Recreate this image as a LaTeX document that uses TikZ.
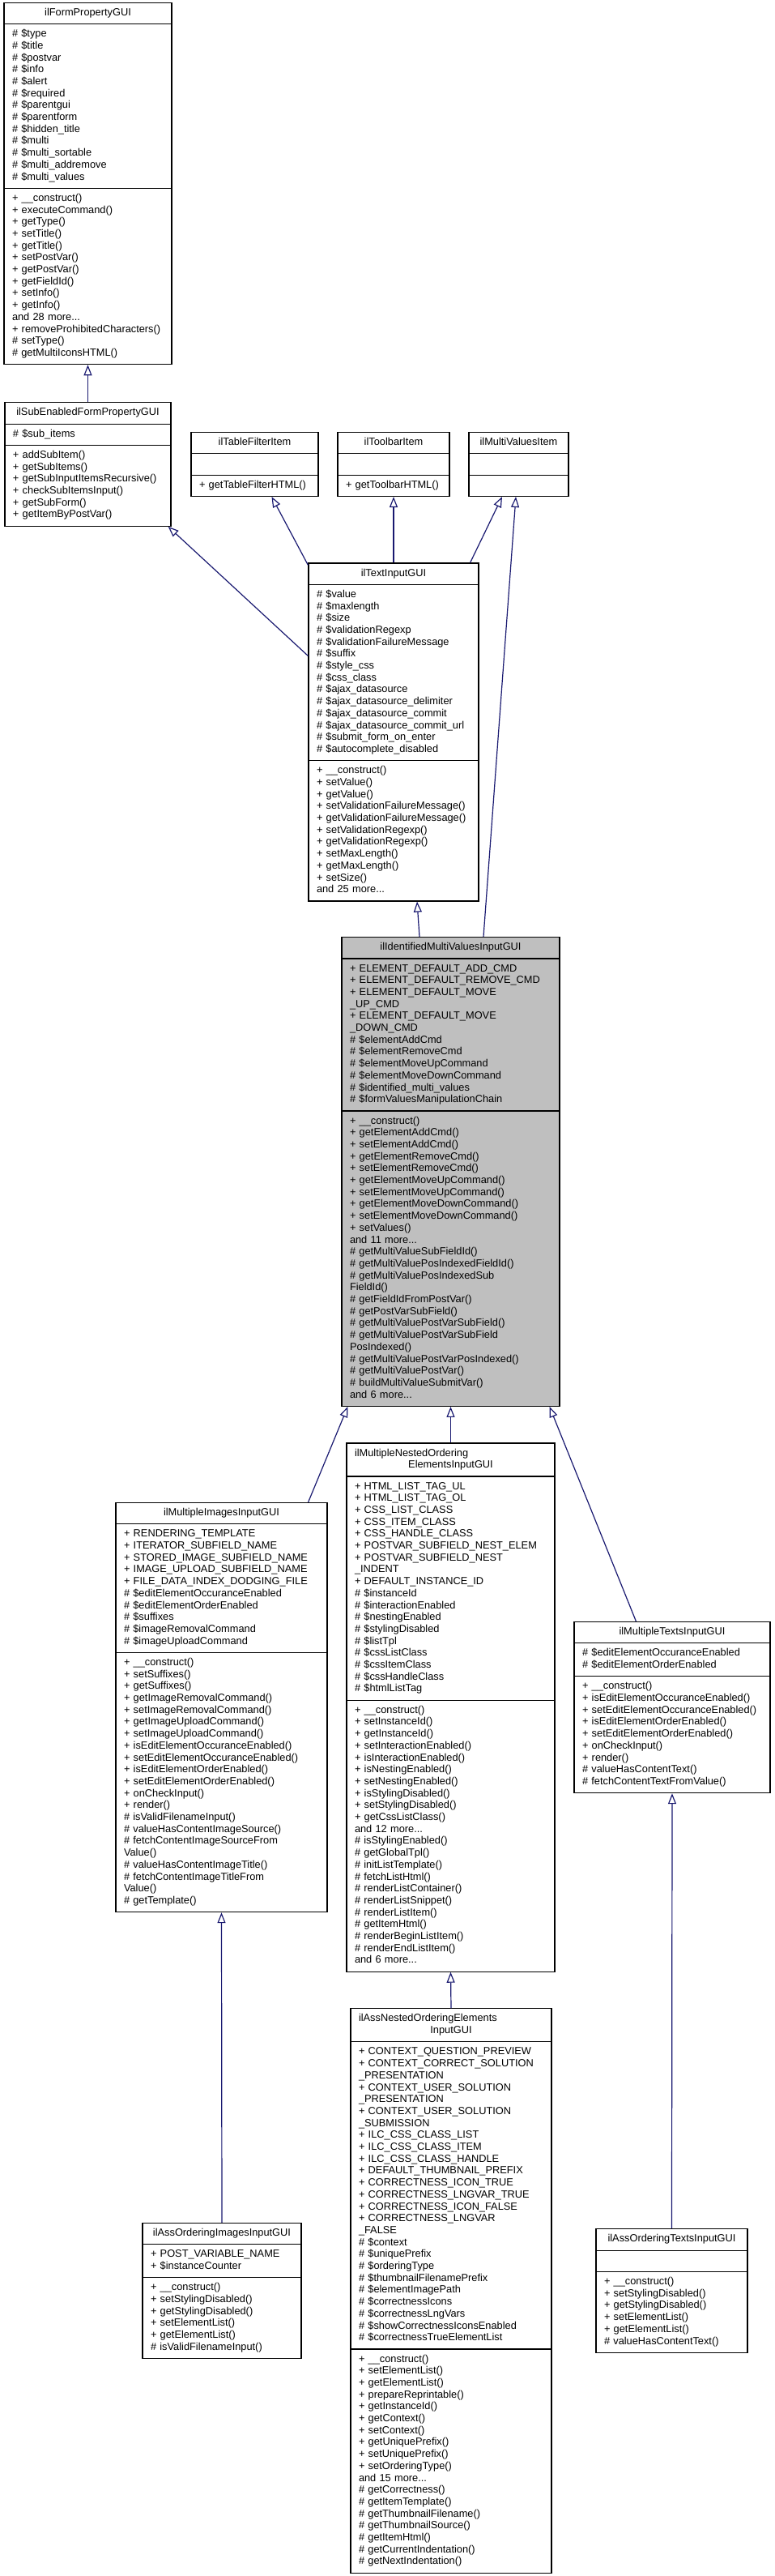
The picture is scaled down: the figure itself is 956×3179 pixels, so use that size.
\documentclass[tikz,border=0pt]{standalone}
\usepackage{fontspec}
\setmainfont{Liberation Sans}
\usepackage{tikz}
\usetikzlibrary{arrows.meta}
\usetikzlibrary{shapes.multipart}
\usepackage{xcolor}
\definecolor{edgeblue}{HTML}{191970}
\definecolor{basegray}{HTML}{BFBFBF}
\newcommand{\ctitle}[1]{\makebox[\hsize][c]{#1}}
\newcommand{\ltitle}[1]{\makebox[\hsize][l]{#1}}

\begin{document}
\begin{tikzpicture}[x=1pt,y=1pt]
  \tikzset{cls/.style = {shape=rectangle split, rectangle split parts=3, draw=black, line width=1.2pt, fill=white,
      font=\fontsize{12.8}{14.7}\selectfont, align=left, inner xsep=10pt, inner ysep=5.2pt,
      execute at begin node=\strut, execute at end node=\strut}}
  \tikzset{basecls/.style = {cls, fill=basegray}}
  \tikzset{edge/.style = {draw=edgeblue, line width=1.2pt, -tipI}}
  \tikzset{%
  tipI/.tip={Triangle[length=13pt,width=10pt,fill=white]},
  }
  \useasboundingbox (0,0) rectangle (956,-3179);

	\node[cls, text width=187pt] (FP) at (108.5,-226.5) {\ctitle{ilFormPropertyGUI}%
	  \nodepart{two}\# \$type\\\# \$title\\\# \$postvar\\\# \$info\\\# \$alert\\\# \$required\\\# \$parentgui\\\# \$parentform\\\# \$hidden\_title\\\# \$multi\\\# \$multi\_sortable\\\# \$multi\_addremove\\\# \$multi\_values
	  \nodepart{three}+ \_\_construct()\\+ executeCommand()\\+ getType()\\+ setTitle()\\+ getTitle()\\+ setPostVar()\\+ getPostVar()\\+ getFieldId()\\+ setInfo()\\+ getInfo()\\and 28 more...\\+ removeProhibitedCharacters()\\\# setType()\\\# getMultiIconsHTML()};
	\node[cls, text width=185pt] (SE) at (108.5,-573) {\ctitle{ilSubEnabledFormPropertyGUI}%
	  \nodepart{two}\# \$sub\_items
	  \nodepart{three}+ addSubItem()\\+ getSubItems()\\+ getSubInputItemsRecursive()\\+ checkSubItemsInput()\\+ getSubForm()\\+ getItemByPostVar()};
	\node[cls, text width=137pt] (TF) at (314.5,-573) {\ctitle{ilTableFilterItem}%
	  \nodepart{two}
	  \nodepart{three}+ getTableFilterHTML()};
	\node[cls, text width=118pt] (TB) at (486,-573) {\ctitle{ilToolbarItem}%
	  \nodepart{two}
	  \nodepart{three}+ getToolbarHTML()};
	\node[cls, text width=103pt] (MV) at (640.5,-573) {\ctitle{ilMultiValuesItem}%
	  \nodepart{two}
	  \nodepart{three}};
	\node[cls, text width=190pt] (TI) at (486,-903.5) {\ctitle{ilTextInputGUI}%
	  \nodepart{two}\# \$value\\\# \$maxlength\\\# \$size\\\# \$validationRegexp\\\# \$validationFailureMessage\\\# \$suffix\\\# \$style\_css\\\# \$css\_class\\\# \$ajax\_datasource\\\# \$ajax\_datasource\_delimiter\\\# \$ajax\_datasource\_commit\\\# \$ajax\_datasource\_commit\_url\\\# \$submit\_form\_on\_enter\\\# \$autocomplete\_disabled
	  \nodepart{three}+ \_\_construct()\\+ setValue()\\+ getValue()\\+ setValidationFailureMessage()\\+ getValidationFailureMessage()\\+ setValidationRegexp()\\+ getValidationRegexp()\\+ setMaxLength()\\+ getMaxLength()\\+ setSize()\\and 25 more...};
	\node[basecls, text width=249pt] (IM) at (556.5,-1446) {\ctitle{ilIdentifiedMultiValuesInputGUI}%
	  \nodepart{two}+ ELEMENT\_DEFAULT\_ADD\_CMD\\+ ELEMENT\_DEFAULT\_REMOVE\_CMD\\+ ELEMENT\_DEFAULT\_MOVE\\\_UP\_CMD\\+ ELEMENT\_DEFAULT\_MOVE\\\_DOWN\_CMD\\\# \$elementAddCmd\\\# \$elementRemoveCmd\\\# \$elementMoveUpCommand\\\# \$elementMoveDownCommand\\\# \$identified\_multi\_values\\\# \$formValuesManipulationChain
	  \nodepart{three}+ \_\_construct()\\+ getElementAddCmd()\\+ setElementAddCmd()\\+ getElementRemoveCmd()\\+ setElementRemoveCmd()\\+ getElementMoveUpCommand()\\+ setElementMoveUpCommand()\\+ getElementMoveDownCommand()\\+ setElementMoveDownCommand()\\+ setValues()\\and 11 more...\\\# getMultiValueSubFieldId()\\\# getMultiValuePosIndexedFieldId()\\\# getMultiValuePosIndexedSub\\FieldId()\\\# getFieldIdFromPostVar()\\\# getPostVarSubField()\\\# getMultiValuePostVarSubField()\\\# getMultiValuePostVarSubField\\PosIndexed()\\\# getMultiValuePostVarPosIndexed()\\\# getMultiValuePostVar()\\\# buildMultiValueSubmitVar()\\and 6 more...};
	\node[cls, text width=241pt] (MI) at (273.5,-2107) {\ctitle{ilMultipleImagesInputGUI}%
	  \nodepart{two}+ RENDERING\_TEMPLATE\\+ ITERATOR\_SUBFIELD\_NAME\\+ STORED\_IMAGE\_SUBFIELD\_NAME\\+ IMAGE\_UPLOAD\_SUBFIELD\_NAME\\+ FILE\_DATA\_INDEX\_DODGING\_FILE\\\# \$editElementOccuranceEnabled\\\# \$editElementOrderEnabled\\\# \$suffixes\\\# \$imageRemovalCommand\\\# \$imageUploadCommand
	  \nodepart{three}+ \_\_construct()\\+ setSuffixes()\\+ getSuffixes()\\+ getImageRemovalCommand()\\+ setImageRemovalCommand()\\+ getImageUploadCommand()\\+ setImageUploadCommand()\\+ isEditElementOccuranceEnabled()\\+ setEditElementOccuranceEnabled()\\+ isEditElementOrderEnabled()\\+ setEditElementOrderEnabled()\\+ onCheckInput()\\+ render()\\\# isValidFilenameInput()\\\# valueHasContentImageSource()\\\# fetchContentImageSourceFrom\\Value()\\\# valueHasContentImageTitle()\\\# fetchContentImageTitleFrom\\Value()\\\# getTemplate()};
	\node[cls, text width=237pt] (MN) at (556.5,-2107) {\ltitle{ilMultipleNestedOrdering}\\\ctitle{ElementsInputGUI}%
	  \nodepart{two}+ HTML\_LIST\_TAG\_UL\\+ HTML\_LIST\_TAG\_OL\\+ CSS\_LIST\_CLASS\\+ CSS\_ITEM\_CLASS\\+ CSS\_HANDLE\_CLASS\\+ POSTVAR\_SUBFIELD\_NEST\_ELEM\\+ POSTVAR\_SUBFIELD\_NEST\\\_INDENT\\+ DEFAULT\_INSTANCE\_ID\\\# \$instanceId\\\# \$interactionEnabled\\\# \$nestingEnabled\\\# \$stylingDisabled\\\# \$listTpl\\\# \$cssListClass\\\# \$cssItemClass\\\# \$cssHandleClass\\\# \$htmlListTag
	  \nodepart{three}+ \_\_construct()\\+ setInstanceId()\\+ getInstanceId()\\+ setInteractionEnabled()\\+ isInteractionEnabled()\\+ isNestingEnabled()\\+ setNestingEnabled()\\+ isStylingDisabled()\\+ setStylingDisabled()\\+ getCssListClass()\\and 12 more...\\\# isStylingEnabled()\\\# getGlobalTpl()\\\# initListTemplate()\\\# fetchListHtml()\\\# renderListContainer()\\\# renderListSnippet()\\\# renderListItem()\\\# getItemHtml()\\\# renderBeginListItem()\\\# renderEndListItem()\\and 6 more...};
	\node[cls, text width=222pt] (MT) at (830,-2107) {\ctitle{ilMultipleTextsInputGUI}%
	  \nodepart{two}\# \$editElementOccuranceEnabled\\\# \$editElementOrderEnabled
	  \nodepart{three}+ \_\_construct()\\+ isEditElementOccuranceEnabled()\\+ setEditElementOccuranceEnabled()\\+ isEditElementOrderEnabled()\\+ setEditElementOrderEnabled()\\+ onCheckInput()\\+ render()\\\# valueHasContentText()\\\# fetchContentTextFromValue()};
	\node[cls, text width=176pt] (AI) at (274,-2827) {\ctitle{ilAssOrderingImagesInputGUI}%
	  \nodepart{two}+ POST\_VARIABLE\_NAME\\+ \$instanceCounter
	  \nodepart{three}+ \_\_construct()\\+ setStylingDisabled()\\+ getStylingDisabled()\\+ setElementList()\\+ getElementList()\\\# isValidFilenameInput()};
	\node[cls, text width=228pt] (AN) at (557,-2827) {\ltitle{ilAssNestedOrderingElements}\\\ctitle{InputGUI}%
	  \nodepart{two}+ CONTEXT\_QUESTION\_PREVIEW\\+ CONTEXT\_CORRECT\_SOLUTION\\\_PRESENTATION\\+ CONTEXT\_USER\_SOLUTION\\\_PRESENTATION\\+ CONTEXT\_USER\_SOLUTION\\\_SUBMISSION\\+ ILC\_CSS\_CLASS\_LIST\\+ ILC\_CSS\_CLASS\_ITEM\\+ ILC\_CSS\_CLASS\_HANDLE\\+ DEFAULT\_THUMBNAIL\_PREFIX\\+ CORRECTNESS\_ICON\_TRUE\\+ CORRECTNESS\_LNGVAR\_TRUE\\+ CORRECTNESS\_ICON\_FALSE\\+ CORRECTNESS\_LNGVAR\\\_FALSE\\\# \$context\\\# \$uniquePrefix\\\# \$orderingType\\\# \$thumbnailFilenamePrefix\\\# \$elementImagePath\\\# \$correctnessIcons\\\# \$correctnessLngVars\\\# \$showCorrectnessIconsEnabled\\\# \$correctnessTrueElementList
	  \nodepart{three}+ \_\_construct()\\+ setElementList()\\+ getElementList()\\+ prepareReprintable()\\+ getInstanceId()\\+ getContext()\\+ setContext()\\+ getUniquePrefix()\\+ setUniquePrefix()\\+ setOrderingType()\\and 15 more...\\\# getCorrectness()\\\# getItemTemplate()\\\# getThumbnailFilename()\\\# getThumbnailSource()\\\# getItemHtml()\\\# getCurrentIndentation()\\\# getNextIndentation()};
	\node[cls, text width=167pt] (AT) at (829.5,-2827) {\ctitle{ilAssOrderingTextsInputGUI}%
	  \nodepart{two}
	  \nodepart{three}+ \_\_construct()\\+ setStylingDisabled()\\+ getStylingDisabled()\\+ setElementList()\\+ getElementList()\\\# valueHasContentText()};

    \foreach \from/\to in {SE/FP, TI/TB, MN/IM, AI/MI, AN/MN, AT/MT}
    \draw[edge] (\from.north) -- (\to.south);

    \foreach \from/\fx/\fy/\to/\tx/\ty in {TI.north west/0/-115/SE.south east/-4/0, TI.north west/0/-3/TF.south/21/0,
        TI.north east/-11/0/MV.south/-20.5/0, IM.north/40.5/0/MV.south/-3.5/0, IM.north/-38.5/0/TI.south/29/0,
        MI.north east/-24/0/IM.south west/8/0, MT.north west/77/0/IM.south east/-13/0}
    \draw[edge] ([shift={(\fx,\fy)}]\from) -- ([shift={(\tx,\ty)}]\to);

\end{tikzpicture}
\end{document}
